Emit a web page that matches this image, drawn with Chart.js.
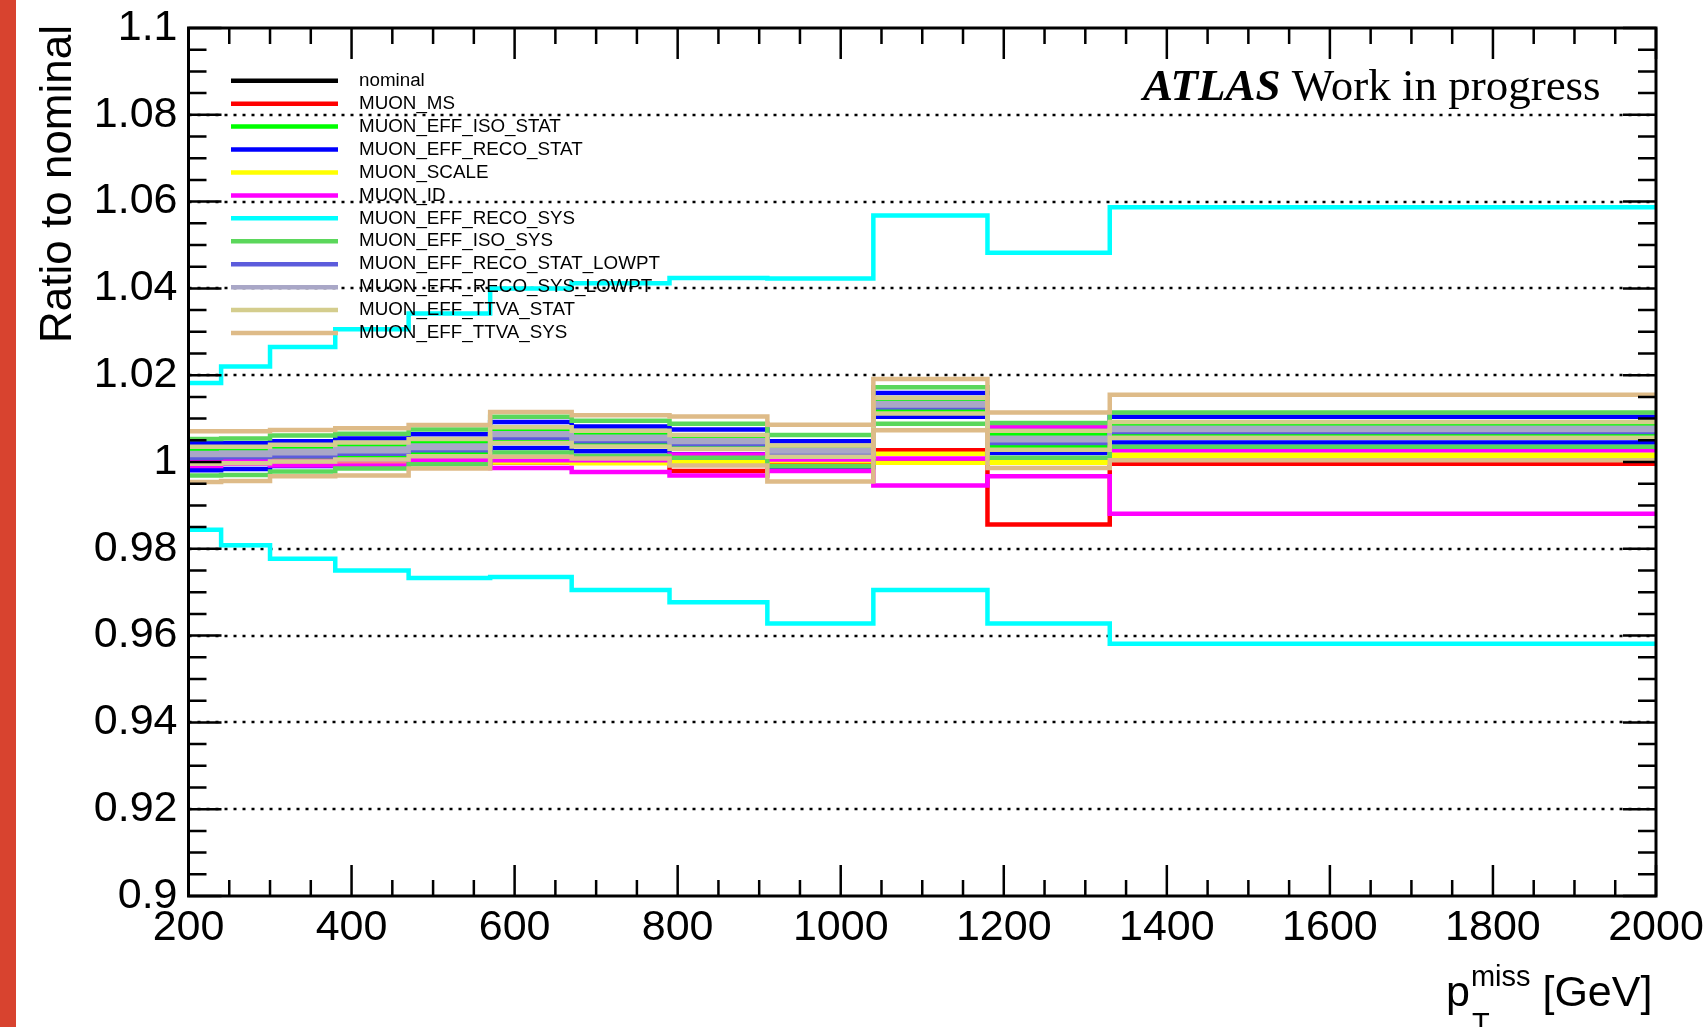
<!DOCTYPE html>
<html>
<head>
<meta charset="utf-8">
<title>Ratio to nominal - muon systematics</title>
<script src="https://cdn.jsdelivr.net/npm/chart.js"></script>
<style>
  html, body { margin: 0; padding: 0; background: #ffffff; }
  canvas { display: block; }
</style>
</head>
<body>
<canvas id="ratioChart" width="1705" height="1027"></canvas>
<script>
// Bin edges of the pT^miss histogram [GeV]
const binEdges = [200, 240, 300, 380, 470, 570, 670, 790, 910, 1040, 1180, 1330, 2000];

// Ratio to nominal, one value per bin
const nominal = [1, 1, 1, 1, 1, 1, 1, 1, 1, 1, 1, 1];

const msUp = [1.0002, 1.0002, 1.0001, 1.0001, 1.0002, 1.0001, 1.0, 1.0001, 1.0003, 1.0027, 1.0001, 1.0006];
const msDown = [0.9998, 0.9999, 0.9999, 0.9999, 1.0, 0.9999, 0.9998, 0.9979, 0.9995, 0.9999, 0.9856, 0.9996];

const isoStatUp = [1.0027, 1.0028, 1.0032, 1.0037, 1.0045, 1.0072, 1.0065, 1.0058, 1.0032, 1.0142, 1.0064, 1.0085];
const isoStatDown = [1.0005, 1.0006, 1.001, 1.0014, 1.0022, 1.005, 1.0044, 1.0035, 1.0012, 1.0119, 1.0035, 1.0065];

const recoStatUp = [1.0044, 1.0043, 1.0048, 1.0054, 1.0064, 1.0092, 1.0082, 1.0075, 1.0048, 1.0159, 1.0078, 1.0104];
const recoStatDown = [0.9981, 0.9984, 0.9991, 0.9997, 1.0007, 1.0032, 1.0025, 1.0018, 0.9988, 1.0104, 1.0021, 1.0045];

const scaleUp = [1.0001, 1.0002, 1.0002, 1.0003, 1.0004, 1.0001, 0.9999, 1.0001, 1.0005, 1.0019, 1.0001, 1.0017];
const scaleDown = [0.9999, 1.0, 1.0, 1.0, 1.0001, 0.9999, 0.9997, 0.9998, 1.0002, 0.9998, 0.9998, 1.0012];

const idUp = [1.0003, 1.0004, 1.0003, 1.0004, 1.0006, 1.0004, 1.0004, 1.0017, 1.0006, 1.0008, 1.0082, 1.0027];
const idDown = [0.9991, 0.9996, 0.9992, 0.9992, 0.9999, 0.9986, 0.9977, 0.9969, 0.9979, 0.9946, 0.9967, 0.9881];

const recoSysUp = [1.0182, 1.022, 1.0265, 1.0306, 1.0342, 1.04, 1.0412, 1.0424, 1.0423, 1.0568, 1.0482, 1.0587];
const recoSysDown = [0.9844, 0.9808, 0.9777, 0.975, 0.9733, 0.9735, 0.9705, 0.9677, 0.9628, 0.9705, 0.9628, 0.9581];

const isoSysUp = [1.0053, 1.0054, 1.0061, 1.0065, 1.0075, 1.0104, 1.0095, 1.0088, 1.0062, 1.0172, 1.009, 1.0114];
const isoSysDown = [0.9969, 0.997, 0.9978, 0.9985, 0.9995, 1.0022, 1.0014, 1.001, 0.999, 1.0088, 1.001, 1.0035];

const lowptStatUp = [1.0013, 1.0013, 1.0017, 1.0022, 1.0029, 1.0058, 1.005, 1.0042, 1.0021, 1.0127, 1.0046, 1.007];
const lowptStatDown = [1.001, 1.0011, 1.0014, 1.0019, 1.0027, 1.0056, 1.0048, 1.0041, 1.0019, 1.0126, 1.0044, 1.0069];

const lowptSysUp = [1.0021, 1.0022, 1.0026, 1.0031, 1.0038, 1.0066, 1.0058, 1.005, 1.0028, 1.0136, 1.0056, 1.0079];
const lowptSysDown = [1.0016, 1.0016, 1.002, 1.0025, 1.0032, 1.0062, 1.0053, 1.0046, 1.0024, 1.013, 1.005, 1.0074];

const ttvaStatUp = [1.0035, 1.0035, 1.004, 1.0045, 1.0053, 1.008, 1.0072, 1.0062, 1.0038, 1.0148, 1.0072, 1.0092];
const ttvaStatDown = [0.9996, 0.9997, 1.0001, 1.0006, 1.0013, 1.0044, 1.0036, 1.003, 1.0012, 1.0112, 1.0028, 1.0056];

const ttvaSysUp = [1.0071, 1.0071, 1.0074, 1.0078, 1.0085, 1.0115, 1.0108, 1.0105, 1.0086, 1.0191, 1.0114, 1.0155];
const ttvaSysDown = [0.9954, 0.9956, 0.9967, 0.9969, 0.9985, 1.0012, 1.0008, 0.9992, 0.9955, 1.0073, 0.9986, 1.0004];

// Legend order = drawing order (later ones on top)
const series = [
  { label: "nominal", color: "#000000", up: nominal, down: null },
  { label: "MUON_MS", color: "#ff0000", up: msUp, down: msDown },
  { label: "MUON_EFF_ISO_STAT", color: "#00ff00", up: isoStatUp, down: isoStatDown },
  { label: "MUON_EFF_RECO_STAT", color: "#0000ff", up: recoStatUp, down: recoStatDown },
  { label: "MUON_SCALE", color: "#ffff00", up: scaleUp, down: scaleDown },
  { label: "MUON_ID", color: "#ff00ff", up: idUp, down: idDown },
  { label: "MUON_EFF_RECO_SYS", color: "#00ffff", up: recoSysUp, down: recoSysDown },
  { label: "MUON_EFF_ISO_SYS", color: "#5bd75b", up: isoSysUp, down: isoSysDown },
  { label: "MUON_EFF_RECO_STAT_LOWPT", color: "#5c5cdc", up: lowptStatUp, down: lowptStatDown },
  { label: "MUON_EFF_RECO_SYS_LOWPT", color: "#a9a7c7", up: lowptSysUp, down: lowptSysDown },
  { label: "MUON_EFF_TTVA_STAT", color: "#d4cd8d", up: ttvaStatUp, down: ttvaStatDown },
  { label: "MUON_EFF_TTVA_SYS", color: "#debb88", up: ttvaSysUp, down: ttvaSysDown },
];

const SANS = "'Liberation Sans', Arial, Helvetica, sans-serif";
const SERIF = "'Liberation Serif', 'Times New Roman', serif";
const LINE_W = 4.5;

// histogram outline: one point per lower edge, plus the last upper edge
function toSteps(vals) {
  const pts = vals.map((v, i) => ({ x: binEdges[i], y: v }));
  pts.push({ x: binEdges[binEdges.length - 1], y: vals[vals.length - 1] });
  return pts;
}

const datasets = [];
series.forEach((s) => {
  [s.up, s.down].forEach((vals, k) => {
    if (!vals) return;
    datasets.push({
      label: s.label + (k === 0 ? " up" : " down"),
      data: toSteps(vals),
      borderColor: s.color,
      borderWidth: LINE_W,
      borderCapStyle: "butt",
      borderJoinStyle: "miter",
      stepped: "before",
      pointRadius: 0,
      fill: false,
      tension: 0,
    });
  });
});
// Chart.js paints the lowest order last, so reverse it
datasets.forEach((d, i) => (d.order = datasets.length - i));

// ROOT-like frame, inward ticks, dotted grid, legend and labels
const rootStyle = {
  id: "rootStyle",
  beforeDatasetsDraw(chart) {
    const { ctx, chartArea: a, scales } = chart;
    const y = scales.y;
    ctx.save();
    ctx.strokeStyle = "#000";
    ctx.lineWidth = 2.5;
    ctx.setLineDash([3, 6]);
    for (let k = 1; k < 10; k++) {
      const py = Math.round(y.getPixelForValue(0.9 + k * 0.02));
      ctx.beginPath();
      ctx.moveTo(a.left, py);
      ctx.lineTo(a.right, py);
      ctx.stroke();
    }
    ctx.restore();
  },
  afterDatasetsDraw(chart) {
    const { ctx, chartArea: a, scales } = chart;
    ctx.save();
    ctx.strokeStyle = "#000";
    ctx.lineWidth = 2.5;
    ctx.beginPath();
    for (let v = 200; v <= 2000; v += 50) {
      const px = scales.x.getPixelForValue(v);
      const len = v % 200 === 0 ? 31 : 16;
      ctx.moveTo(px, a.bottom);
      ctx.lineTo(px, a.bottom - len);
      ctx.moveTo(px, a.top);
      ctx.lineTo(px, a.top + len);
    }
    for (let k = 0; k <= 40; k++) {
      const py = scales.y.getPixelForValue(0.9 + k * 0.005);
      const len = k % 4 === 0 ? 33 : 18;
      ctx.moveTo(a.left, py);
      ctx.lineTo(a.left + len, py);
      ctx.moveTo(a.right, py);
      ctx.lineTo(a.right - len, py);
    }
    ctx.stroke();
    ctx.lineWidth = 3;
    ctx.strokeRect(a.left, a.top, a.right - a.left, a.bottom - a.top);
    ctx.restore();
  },
  afterDraw(chart) {
    const { ctx } = chart;
    ctx.save();

    // Legend
    ctx.font = "18.8px " + SANS;
    ctx.textBaseline = "middle";
    ctx.textAlign = "left";
    series.forEach((s, i) => {
      const ly = 80.7 + i * 22.94;
      ctx.strokeStyle = s.color;
      ctx.lineWidth = LINE_W;
      ctx.beginPath();
      ctx.moveTo(231, ly);
      ctx.lineTo(338, ly);
      ctx.stroke();
      ctx.fillStyle = "#000";
      ctx.fillText(s.label, 359, ly);
    });

    // ATLAS label
    ctx.textBaseline = "alphabetic";
    ctx.fillStyle = "#000";
    ctx.font = "italic bold 45px " + SERIF;
    ctx.fillText("ATLAS", 1143, 100);
    const w = ctx.measureText("ATLAS").width;
    ctx.font = "45px " + SERIF;
    ctx.fillText(" Work in progress", 1143 + w, 100);

    // Y title
    ctx.save();
    ctx.font = "44px " + SANS;
    ctx.translate(71, 25);
    ctx.rotate(-Math.PI / 2);
    ctx.textAlign = "right";
    ctx.fillText("Ratio to nominal", 0, 0);
    ctx.restore();

    // X title: p_T^miss [GeV]
    let x = 1446;
    ctx.font = "43px " + SANS;
    ctx.fillText("p", x, 1006);
    x += ctx.measureText("p").width;
    ctx.font = "29px " + SANS;
    ctx.fillText("miss", x + 1, 986);
    ctx.fillText("T", x + 2, 1033);
    x += ctx.measureText("miss").width + 1;
    ctx.font = "43px " + SANS;
    ctx.fillText(" [GeV]", x, 1006);

    // red strip on the left border
    ctx.fillStyle = "#d8432f";
    ctx.fillRect(0, 0, 16, 1027);
    ctx.restore();
  },
};

const ctx = document.getElementById("ratioChart").getContext("2d");
new Chart(ctx, {
  type: "line",
  data: { datasets: datasets },
  options: {
    responsive: false,
    animation: false,
    events: [],
    layout: { padding: { left: 0, right: 49, top: 28, bottom: 0 } },
    plugins: {
      legend: { display: false },
      tooltip: { enabled: false },
    },
    scales: {
      x: {
        type: "linear",
        min: 200,
        max: 2000,
        grid: { display: false, drawTicks: false },
        border: { display: false },
        ticks: {
          stepSize: 200,
          autoSkip: false,
          maxRotation: 0,
          padding: 6,
          color: "#000",
          font: { family: SANS, size: 43 },
          callback: (v) => String(v),
        },
        afterFit: (scale) => {
          scale.height = 131;
          scale.paddingLeft = 0;
          scale.paddingRight = 0;
        },
      },
      y: {
        type: "linear",
        min: 0.9,
        max: 1.1,
        grid: { display: false, drawTicks: false },
        border: { display: false },
        ticks: {
          stepSize: 0.02,
          autoSkip: false,
          padding: 11,
          color: "#000",
          font: { family: SANS, size: 43 },
          callback: (v) => parseFloat(v.toFixed(2)).toString(),
        },
        afterFit: (scale) => {
          scale.width = 188.5;
          scale.paddingTop = 0;
          scale.paddingBottom = 0;
        },
      },
    },
  },
  plugins: [rootStyle],
});
</script>
</body>
</html>
